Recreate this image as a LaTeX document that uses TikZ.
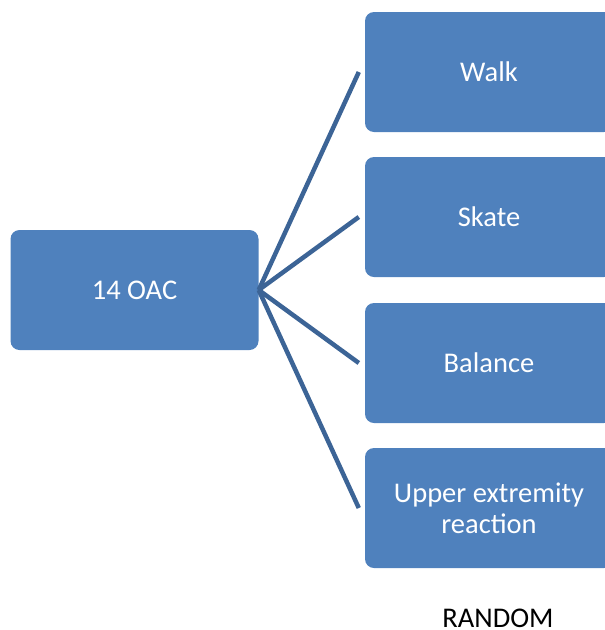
\documentclass[tikz,border=0pt]{standalone}
\usepackage{fontspec}
\setmainfont{Carlito}
\usetikzlibrary{calc}
\definecolor{boxfill}{HTML}{4F81BD}
\definecolor{linecol}{HTML}{3C6496}
\begin{document}
\begin{tikzpicture}[x=1pt,y=-1pt,
  box/.style={draw=none,fill=boxfill,rounded corners=9pt,minimum width=248pt,minimum height=120pt,inner sep=0pt,text=white,font=\fontsize{28.5}{31}\selectfont,align=center},
  conn/.style={draw=linecol,line width=4.5pt}]
\useasboundingbox (0,0) rectangle (605,630);
\begin{scope}
\clip (0,0) rectangle (605,630);
\node[box] (root) at (134.5,290) {14 OAC};
\node[box] (walk) at (489,72) {Walk};
\node[box] (skate) at (489,217) {Skate};
\node[box] (bal) at (489,363) {Balance};
\node[box] (upper) at (489,508) {Upper extremity\\reaction};
\end{scope}
\coordinate (c1) at ($(walk.west)+(-6,0)$);
\coordinate (c2) at ($(skate.west)+(-6,0)$);
\coordinate (c3) at ($(bal.west)+(-6,0)$);
\coordinate (c4) at ($(upper.west)+(-6,0)$);
\foreach \c in {c1,c2,c3,c4} \draw[conn] (root.east) -- (\c);
\node[font=\fontsize{28.5}{31}\selectfont,anchor=base,inner sep=0pt] (rand) at (498,627) {RANDOM};
\end{tikzpicture}
\end{document}
